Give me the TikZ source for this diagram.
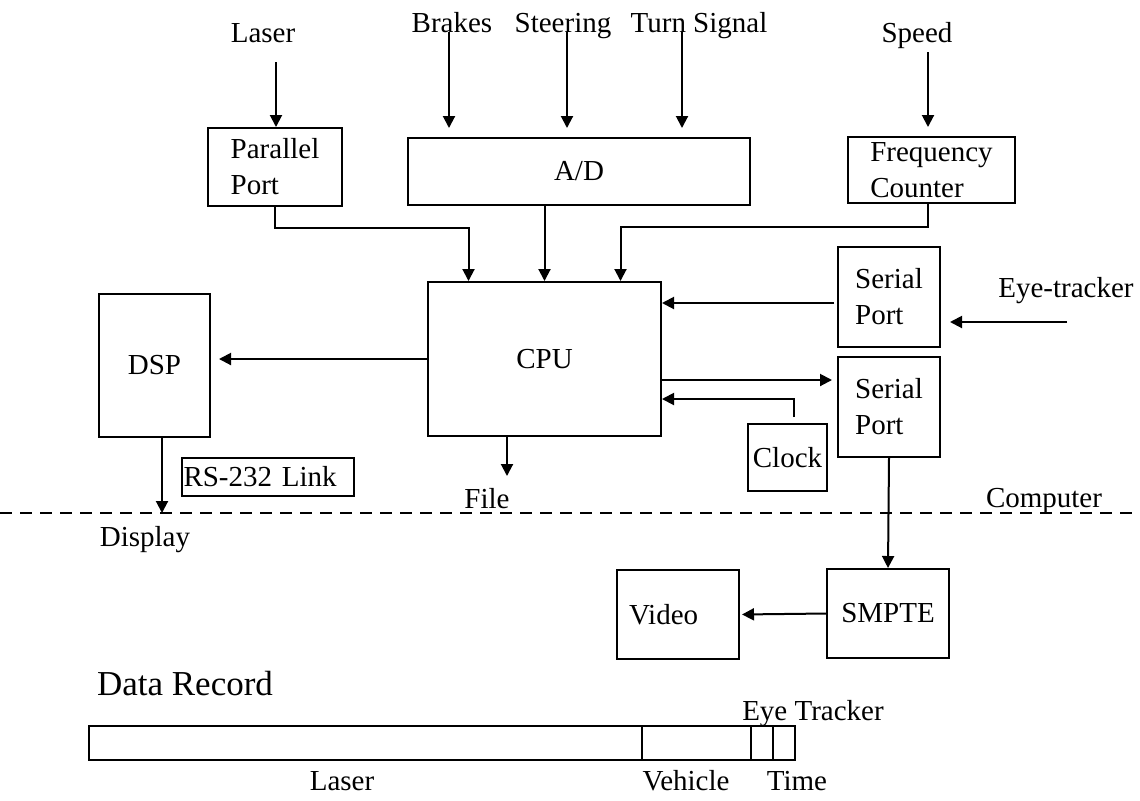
\documentclass[tikz,border=0pt]{standalone}
\usepackage{fontspec}
\setmainfont{Liberation Serif}
\usepackage{tikz}
\usetikzlibrary{arrows.meta}

\begin{document}
\begin{tikzpicture}[x=0.5pt,y=-0.5pt,font=\fontsize{14.5}{18}\selectfont,
box/.style={draw,line width=1pt,inner sep=1pt,align=left},
arr/.style={line width=1pt,-{Triangle[length=6pt,width=6pt]}},
wire/.style={line width=1pt}]
\useasboundingbox (0,0) rectangle (1140,800);
% inputs
\node[anchor=base](lLaser) at (263,42){Laser};
\node[anchor=base](lBrakes) at (452,32){Brakes};
\node[anchor=base](lSteer) at (563,32){Steering};
\node[anchor=base](lTurn) at (699,32){Turn Signal};
\node[anchor=base](lSpeed) at (917,42){Speed};
\node[anchor=base](lEye) at (1066,297){Eye-tracker};
\coordinate (inLas) at (276,62);
\coordinate (inBrk) at (449,32);
\coordinate (inStr) at (567,32);
\coordinate (inTrn) at (682,32);
\coordinate (inSpd) at (928,52);
\coordinate (inEye) at (1067,322);
% boxes
\node[box,minimum width=67pt,minimum height=39pt](pport) at (275,167){Parallel\\Port};
\node[box,minimum width=171pt,minimum height=33.5pt](ad) at (579,171.5){A/D};
\node[box,minimum width=83.5pt,minimum height=33pt](freq) at (931.5,170){Frequency\\Counter};
\node[box,minimum width=116.5pt,minimum height=77pt](cpu) at (544.5,359){CPU};
\node[box,minimum width=55.5pt,minimum height=71.5pt](dsp) at (154.5,365.5){DSP};
\node[box,minimum height=19pt,text width=84pt](rs) at (267.5,477){RS-232 Link};
\node[box,minimum width=51pt,minimum height=50pt](ser1) at (889,297){Serial\\Port};
\node[box,minimum width=51pt,minimum height=50pt](ser2) at (889,407){Serial\\Port};
\node[box,minimum width=39.5pt,minimum height=33.5pt](clock) at (787.5,457.5){Clock};
\node[box,minimum width=61pt,minimum height=44.5pt](smpte) at (888,613.5){SMPTE};
\node[box,minimum height=44.5pt,inner xsep=6pt,text width=49pt](video) at (678,614.5){Video};
% arrows in
\draw[arr](inLas)--(inLas |- pport.north);
\draw[arr,shorten >=4.5pt](inBrk)--(inBrk |- ad.north);
\draw[arr,shorten >=4.5pt](inStr)--(inStr |- ad.north);
\draw[arr,shorten >=4.5pt](inTrn)--(inTrn |- ad.north);
\draw[arr,shorten >=4.5pt](inSpd)--(inSpd |- freq.north);
\draw[arr,shorten >=4.5pt](inEye)--(inEye -| ser1.east);
% to and from cpu
\draw[arr](pport.south)--++(0,21)-|([xshift=-38pt]cpu.north);
\draw[arr](ad.south -| cpu.north)--(cpu.north);
\draw[arr]([xshift=-1.75pt]freq.south)--++(0,23)-|([xshift=38pt]cpu.north);
\draw[arr,shorten <=1.5pt]([yshift=-3pt]ser1.west)--([yshift=-3pt]ser1.west -| cpu.east);
\draw[arr,shorten >=2.5pt]([yshift=-10.5pt]cpu.east)--([yshift=-10.5pt]cpu.east -| ser2.west);
\draw[arr]([shift={(3.25pt,3pt)}]clock.north)|-([yshift=-20pt]cpu.east);
\draw[arr,shorten >=4pt](cpu.west)--(cpu.west -| dsp.east);
\coordinate (file) at (507,476);
\draw[arr](file |- cpu.south)--(file);
\node[anchor=base](lFile) at (487,508){File};
\coordinate (disp) at (162,513);
\draw[arr](disp |- dsp.south)--(disp);
\draw[arr](ser2.south)--(smpte.north);
\draw[arr,shorten >=1pt](smpte.west)--(video.east);
% computer boundary
\draw[line width=0.6pt,dash pattern=on 6pt off 4pt](0,513)--(1140,513);
\node[anchor=base](lDisp) at (145,546){Display};
\node[anchor=base](lComp) at (1044,507){Computer};
% data record
\node[anchor=base,font=\fontsize{17.5}{20}\selectfont](lRec) at (185,695){Data Record};
\node[box,minimum width=353pt,minimum height=17pt,inner sep=0pt](rec) at (442,743){};
\foreach \x in {642,751,773}
  \draw[wire](\x,0 |- rec.north)--(\x,0 |- rec.south);
\node[anchor=base](lEyeT) at (813,720){Eye Tracker};
\node[anchor=base](lLasR) at (342,790){Laser};
\node[anchor=base](lVeh) at (686,790){Vehicle};
\node[anchor=base](lTime) at (797,790){Time};
\end{tikzpicture}
\end{document}
